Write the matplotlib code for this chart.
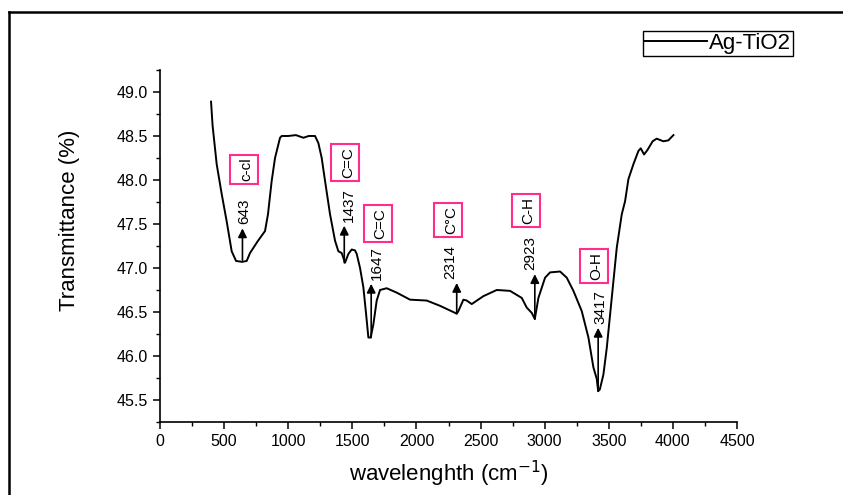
import matplotlib
matplotlib.use("Agg")
import matplotlib.pyplot as plt
from matplotlib.lines import Line2D
from matplotlib.patches import Rectangle
from matplotlib.transforms import IdentityTransform
from matplotlib.ticker import MultipleLocator, FormatStrFormatter

plt.rcParams['font.family'] = ['Liberation Sans', 'DejaVu Sans']

# ---- data ----
wavenumber = [398, 410, 442, 480, 520, 559, 593, 640, 676, 702, 760, 819, 842, 871, 897,
              936, 949, 1000, 1060, 1118, 1160, 1209, 1235, 1261, 1287, 1326, 1365, 1391,
              1417, 1443, 1469, 1495, 1521, 1534, 1560, 1586, 1607, 1625, 1643, 1664, 1690,
              1716, 1768, 1846, 1950, 2080, 2184, 2301, 2314, 2327, 2366, 2392, 2431, 2522,
              2626, 2730, 2821, 2860, 2899, 2923, 2951, 3003, 3042, 3120, 3172, 3224, 3289,
              3341, 3380, 3406, 3417, 3430, 3458, 3484, 3523, 3562, 3601, 3627, 3653, 3692,
              3731, 3749, 3775, 3801, 3842, 3873, 3925, 3964, 4004]
transmittance = [48.89, 48.62, 48.18, 47.85, 47.53, 47.19, 47.08, 47.07, 47.08, 47.17, 47.30,
                 47.42, 47.61, 47.99, 48.25, 48.48, 48.50, 48.50, 48.51, 48.48, 48.50, 48.50,
                 48.42, 48.25, 47.99, 47.61, 47.31, 47.19, 47.17, 47.06, 47.16, 47.21, 47.20,
                 47.16, 47.00, 46.78, 46.48, 46.21, 46.21, 46.36, 46.63, 46.75, 46.77, 46.72,
                 46.64, 46.63, 46.57, 46.49, 46.48, 46.51, 46.64, 46.63, 46.59, 46.68, 46.75,
                 46.74, 46.66, 46.55, 46.49, 46.42, 46.66, 46.89, 46.95, 46.96, 46.89, 46.74,
                 46.51, 46.21, 45.87, 45.74, 45.60, 45.62, 45.79, 46.09, 46.66, 47.23, 47.61,
                 47.76, 48.01, 48.18, 48.33, 48.36, 48.29, 48.34, 48.44, 48.47, 48.44, 48.45,
                 48.51]

peaks = [643, 1437, 1647, 2314, 2923, 3417]
peak_labels = ['643', '1437', '1647', '2314', '2923', '3417']
bond_labels = ['c-cl', 'C=C', 'C=C', 'C\u00b0C', 'C-H', 'O-H']
arrow_base = [47.09, 47.06, 46.21, 46.49, 46.42, 45.60]
arrow_tip = [47.45, 47.48, 46.82, 46.83, 46.93, 46.32]
num_x = [655, 1470, 1689, 2262, 2886, 3432]
box_x = [675, 1470, 1720, 2270, 2875, 3405]
box_y = [48.12, 48.20, 47.51, 47.55, 47.65, 47.02]

series_name = 'Ag-TiO2'

fig = plt.figure(figsize=(8.43, 4.95), dpi=100)
ax = fig.add_axes([0.1898, 0.1475, 0.8743 - 0.1898, 0.8586 - 0.1475])

ax.plot(wavenumber, transmittance, color='black', lw=1.4, label=series_name)

pink = '#ff2d8c'
bond_texts = []
for px, lab, bond, yb, yt, nx, bx, by in zip(peaks, peak_labels, bond_labels,
                                              arrow_base, arrow_tip, num_x,
                                              box_x, box_y):
    ax.annotate('', xy=(px, yt), xytext=(px, yb),
                arrowprops=dict(arrowstyle='-|>', color='black', lw=1.2,
                                mutation_scale=13, shrinkA=0, shrinkB=0))
    ax.annotate(lab, xy=(nx, yt), xytext=(0, 3), textcoords='offset points',
                rotation=90, ha='center', va='bottom', fontsize=11)
    t = ax.text(bx, by, bond, rotation=90, ha='center', va='center', fontsize=11,
                zorder=7)
    bond_texts.append(t)

ax.set_xlim(0, 4500)
ax.set_ylim(45.25, 49.25)
ax.xaxis.set_major_locator(MultipleLocator(500))
ax.xaxis.set_minor_locator(MultipleLocator(250))
ax.set_yticks([45.5, 46.0, 46.5, 47.0, 47.5, 48.0, 48.5, 49.0])
ax.yaxis.set_minor_locator(MultipleLocator(0.25))
ax.yaxis.set_major_formatter(FormatStrFormatter('%.1f'))

ax.spines['top'].set_visible(False)
ax.spines['right'].set_visible(False)
for s in ('left', 'bottom'):
    ax.spines[s].set_linewidth(1.2)
ax.tick_params(which='major', direction='out', length=5, width=1.1, labelsize=11.5)
ax.tick_params(which='minor', direction='out', length=3, width=1.0)

ax.set_xlabel(r'wavelenghth (cm$^{-1}$)', fontsize=16, labelpad=7)
ax.set_ylabel('Transmittance (%)', fontsize=16)
ax.yaxis.set_label_coords(-0.139, 0.574)

leg = ax.legend(loc='upper right', bbox_to_anchor=(0.9407, 0.9374),
                bbox_transform=fig.transFigure, borderaxespad=0, fontsize=16,
                handlelength=2.8, handletextpad=0.12, borderpad=0.08,
                fancybox=False, framealpha=1, edgecolor='black')
leg.get_frame().set_linewidth(1.0)

# pink frames around the bond labels (sized from the rendered text)
fig.canvas.draw()
renderer = fig.canvas.get_renderer()
for t in bond_texts:
    bb = t.get_window_extent(renderer)
    rect = Rectangle((bb.x0 - 10, bb.y0 - 3), bb.width + 14, bb.height + 6,
                     transform=IdentityTransform(), fc='white', ec=pink,
                     lw=1.5, zorder=6, clip_on=False)
    ax.add_artist(rect)

# outer frame (left and top edges)
fig.add_artist(Line2D([0.0101, 0.0101], [0.0, 0.9767], transform=fig.transFigure,
                      color='black', lw=1.8))
fig.add_artist(Line2D([0.0101, 1.0], [0.9767, 0.9767], transform=fig.transFigure,
                      color='black', lw=1.8))

fig.savefig('out.png', dpi=100)
